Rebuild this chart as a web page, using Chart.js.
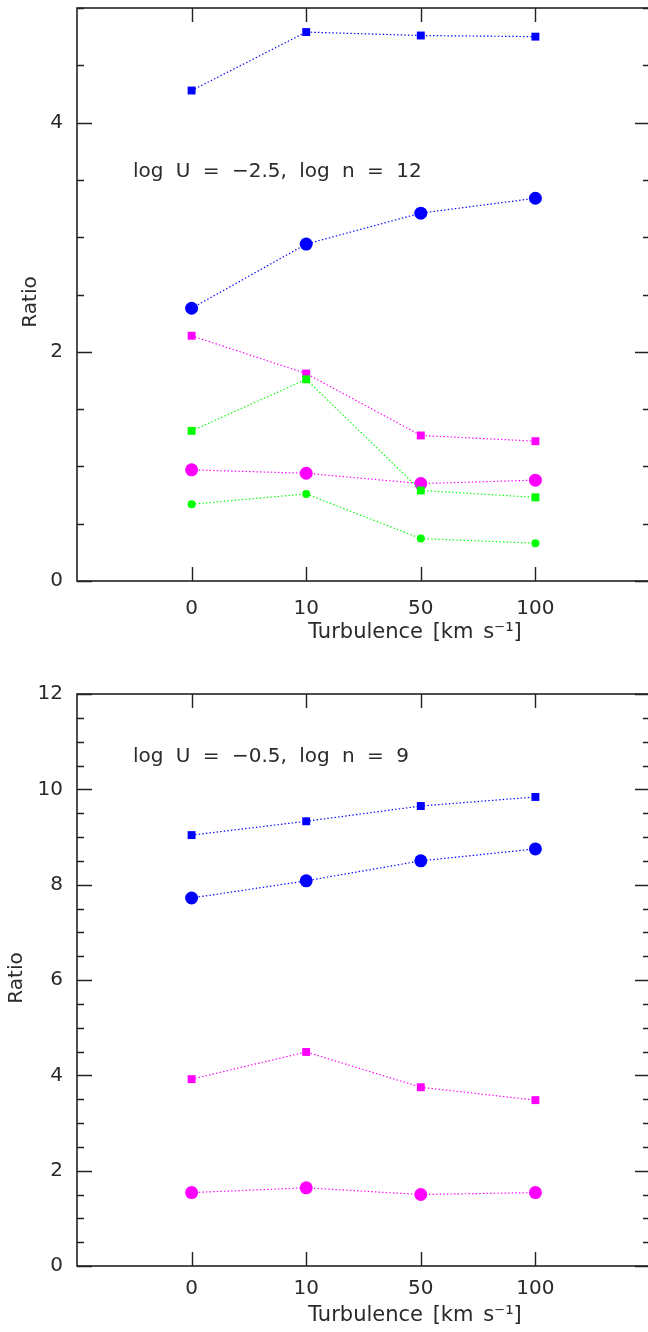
<!DOCTYPE html>
<html><head><meta charset="utf-8">
<script src="https://cdn.jsdelivr.net/npm/chart.js@4.4.1/dist/chart.umd.min.js"></script>
<style>
html,body{margin:0;padding:0;background:#fff;overflow:hidden;width:648px;height:1332px;}
.panel{position:absolute;left:0;width:650px;height:666px;}
#p1{top:0}#p2{top:666px}
canvas{display:block}
</style></head><body>
<div class="panel" id="p1"><canvas id="c1" width="650" height="666"></canvas></div>
<div class="panel" id="p2"><canvas id="c2" width="650" height="666"></canvas></div>
<script>
// ---- data ----
const turbulenceLabels = ['0', '10', '50', '100'];

const topBlueSquares    = [4.28, 4.79, 4.76, 4.75];
const topBlueCircles    = [2.38, 2.94, 3.21, 3.34];
const topMagentaSquares = [2.14, 1.81, 1.27, 1.22];
const topMagentaCircles = [0.97, 0.94, 0.85, 0.88];
const topGreenSquares   = [1.31, 1.76, 0.79, 0.73];
const topGreenCircles   = [0.67, 0.76, 0.37, 0.33];

const bottomBlueSquares    = [9.04, 9.33, 9.65, 9.84];
const bottomBlueCircles    = [7.72, 8.08, 8.50, 8.75];
const bottomMagentaSquares = [3.92, 4.49, 3.75, 3.48];
const bottomMagentaCircles = [1.54, 1.64, 1.50, 1.54];

const topYTicks    = [0, 2, 4];
const bottomYTicks = [0, 2, 4, 6, 8, 10, 12];

const topAnnotation    = 'log U = \u22122.5, log n = 12';
const bottomAnnotation = 'log U = \u22120.5, log n = 9';
const xTitleText = 'Turbulence [km s\u207B\u00B9]';
const yTitleText = 'Ratio';

// ---- styles ----
const FONT_FAMILY = "'DejaVu Sans', 'Liberation Sans', sans-serif";
const TEXT_COLOR = '#2a2a2a';
const AXIS_COLOR = '#222';
const BLUE = '#0000ff', MAGENTA = '#ff00ff', GREEN = '#00ff00';

const framePlugin = {
  id: 'frame',
  afterDatasetsDraw(chart, args, o) {
    const {ctx, chartArea: a, scales: {x, y}} = chart;
    ctx.save();
    ctx.strokeStyle = AXIS_COLOR;
    ctx.lineWidth = 1.4;
    ctx.beginPath();
    // y ticks every 0.5, major every 2
    for (let v = y.min; v <= y.max + 1e-9; v += 0.5) {
      const py = Math.round(y.getPixelForValue(v)) + 0.5;
      const len = (Math.abs(v % 2) < 1e-9) ? 15 : 7;
      ctx.moveTo(a.left, py); ctx.lineTo(a.left + len, py);
      ctx.moveTo(a.right, py); ctx.lineTo(a.right - len, py);
    }
    // x ticks at categories
    for (let i = 0; i < turbulenceLabels.length; i++) {
      const px = Math.round(x.getPixelForValue(i)) + 0.5;
      ctx.moveTo(px, a.bottom); ctx.lineTo(px, a.bottom - 14);
      ctx.moveTo(px, a.top); ctx.lineTo(px, a.top + 14);
    }
    ctx.stroke();
    ctx.lineWidth = 1.6;
    ctx.strokeRect(a.left, a.top, a.right - a.left, a.bottom - a.top);
    ctx.restore();
  },
  afterDraw(chart, args, o) {
    const ctx = chart.ctx;
    ctx.save();
    ctx.fillStyle = TEXT_COLOR;
    ctx.textBaseline = 'middle';
    // annotation
    ctx.font = '20px ' + FONT_FAMILY;
    ctx.textAlign = 'left';
    ctx.wordSpacing = '6px';
    ctx.fillText(o.annotation, o.annX, o.annY);
    // x title
    ctx.font = '21px ' + FONT_FAMILY;
    ctx.wordSpacing = '3px';
    ctx.textAlign = 'center';
    ctx.fillText(xTitleText, o.xtX, o.xtY);
    // y title
    ctx.font = '20px ' + FONT_FAMILY;
    ctx.wordSpacing = '0px';
    ctx.translate(o.ytX, o.ytY);
    ctx.rotate(-Math.PI / 2);
    ctx.fillText(yTitleText, 0, 0);
    ctx.restore();
  }
};

function series(values, color, style, r) {
  return {
    data: values.map((v, i) => ({x: i, y: v})),
    borderColor: color, backgroundColor: color,
    borderWidth: 1.2, borderDash: [1.4, 2.2],
    pointStyle: style, pointRadius: r, pointHoverRadius: r,
    pointBorderWidth: 0, pointBackgroundColor: color,
    tension: 0, fill: false
  };
}

function makeChart(id, p) {
  new Chart(document.getElementById(id), {
    type: 'line',
    data: {datasets: p.datasets},
    options: {
      responsive: false, animation: false, events: [],
      layout: {autoPadding: false, padding: {top: p.padTop, left: 0, right: 0, bottom: 0}},
      plugins: {
        legend: {display: false}, tooltip: {enabled: false},
        frame: p.frame
      },
      scales: {
        x: {
          type: 'linear', min: -1, max: 4,
          afterFit: s => { s.height = p.xAxisHeight; s.paddingLeft = 0; s.paddingRight = 0; },
          grid: {display: false, drawTicks: false}, border: {display: false},
          ticks: {
            stepSize: 1, autoSkip: false, maxRotation: 0, includeBounds: false,
            padding: p.xPad, color: TEXT_COLOR,
            font: {family: FONT_FAMILY, size: 20},
            callback: v => turbulenceLabels[v] ?? ''
          }
        },
        y: {
          type: 'linear', min: 0, max: p.yMax,
          afterFit: s => { s.width = 77; s.paddingTop = 0; s.paddingBottom = 0; },
          grid: {display: false, drawTicks: false}, border: {display: false},
          ticks: {
            stepSize: 2, autoSkip: false, includeBounds: false,
            padding: 14, color: TEXT_COLOR,
            font: {family: FONT_FAMILY, size: 20},
            callback: v => p.yTicks.includes(v) ? String(v) : ''
          }
        }
      }
    },
    plugins: [framePlugin]
  });
}

makeChart('c1', {
  padTop: 8, xAxisHeight: 85, xPad: 16, yMax: 5, yTicks: topYTicks,
  datasets: [
    series(topBlueSquares, BLUE, 'rect', 5.6),
    series(topBlueCircles, BLUE, 'circle', 6.5),
    series(topMagentaSquares, MAGENTA, 'rect', 5.6),
    series(topMagentaCircles, MAGENTA, 'circle', 6.5),
    series(topGreenSquares, GREEN, 'rect', 5.6),
    series(topGreenCircles, GREEN, 'circle', 4)
  ].reverse(),
  frame: {annotation: topAnnotation, annX: 133, annY: 172, xtX: 415, xtY: 633, ytX: 31, ytY: 302}
});

makeChart('c2', {
  padTop: 28, xAxisHeight: 66, xPad: 11, yMax: 12, yTicks: bottomYTicks,
  datasets: [
    series(bottomBlueSquares, BLUE, 'rect', 5.6),
    series(bottomBlueCircles, BLUE, 'circle', 6.5),
    series(bottomMagentaSquares, MAGENTA, 'rect', 5.6),
    series(bottomMagentaCircles, MAGENTA, 'circle', 6.5)
  ].reverse(),
  frame: {annotation: bottomAnnotation, annX: 133, annY: 91, xtX: 415, xtY: 650, ytX: 17, ytY: 312}
});
</script>
</body></html>
